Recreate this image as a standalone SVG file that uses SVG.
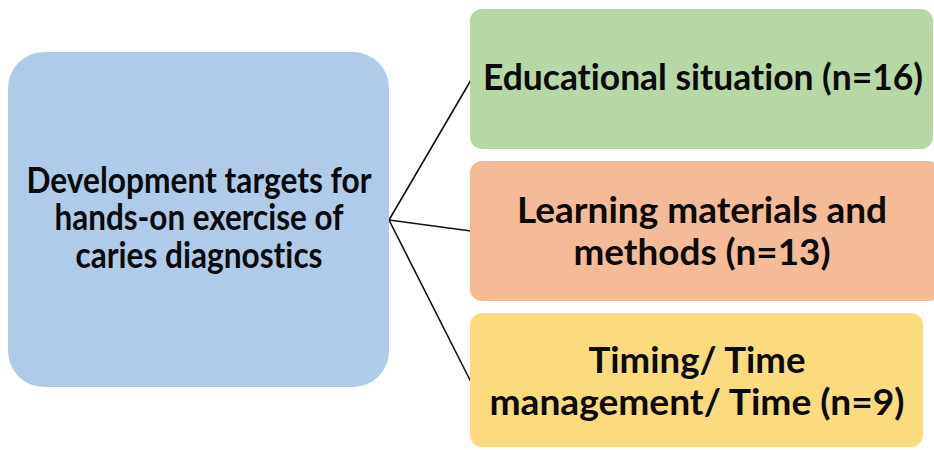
<svg xmlns="http://www.w3.org/2000/svg" width="934" height="450" viewBox="0 0 934 450">
<style>
  .lbl { font-family: Lato, "Liberation Sans", "DejaVu Sans", sans-serif; font-weight: 700; font-size: 35.5px; fill: #0a0a0a; text-anchor: middle; font-variant-ligatures: none; }
  .conn { stroke: #111; stroke-width: 1.6; fill: none; }
</style>
<rect width="934" height="450" fill="#ffffff"/>
<g id="connectors">
  <line class="conn" x1="389" y1="220" x2="471" y2="80"/>
  <line class="conn" x1="389" y1="220" x2="471" y2="231"/>
  <line class="conn" x1="389" y1="220" x2="471" y2="382"/>
</g>
<g id="root">
  <rect x="8" y="52" width="381" height="335" rx="36" ry="36" fill="#AFCBE8"/>
  <text class="lbl" x="199" y="193" textLength="345" lengthAdjust="spacingAndGlyphs">Development targets for</text>
  <text class="lbl" x="199" y="230" textLength="289" lengthAdjust="spacingAndGlyphs">hands-on exercise of</text>
  <text class="lbl" x="199" y="268" textLength="247" lengthAdjust="spacingAndGlyphs">caries diagnostics</text>
</g>
<g id="educational">
  <rect x="470" y="9" width="463" height="140" rx="12" ry="12" fill="#B7D7A5"/>
  <text class="lbl" x="703" y="90" textLength="440" lengthAdjust="spacingAndGlyphs">Educational situation (n=16)</text>
</g>
<g id="learning">
  <rect x="470" y="161" width="470" height="140" rx="12" ry="12" fill="#F5BB97"/>
  <text class="lbl" x="702" y="223" textLength="370" lengthAdjust="spacingAndGlyphs">Learning materials and</text>
  <text class="lbl" x="702" y="265" textLength="257" lengthAdjust="spacingAndGlyphs">methods (n=13)</text>
</g>
<g id="timing">
  <rect x="470" y="313" width="453" height="134" rx="12" ry="12" fill="#FBDB7E"/>
  <text class="lbl" x="697" y="373" textLength="217" lengthAdjust="spacingAndGlyphs">Timing/ Time</text>
  <text class="lbl" x="697" y="415" textLength="415" lengthAdjust="spacingAndGlyphs">management/ Time (n=9)</text>
</g>
</svg>
